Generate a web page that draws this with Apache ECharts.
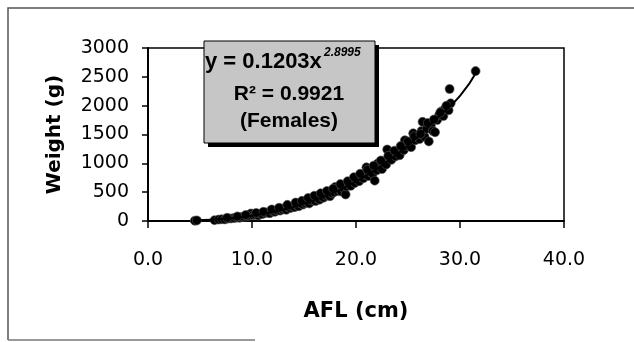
<!DOCTYPE html>
<html>
<head>
<meta charset="utf-8">
<script src="https://cdn.jsdelivr.net/npm/echarts@6/dist/echarts.min.js"></script>
<style>
  html, body { margin: 0; padding: 0; background: #fff; }
  #chart { width: 634px; height: 342px; }
</style>
</head>
<body>
<div id="chart"></div>
<script>
// measured points (AFL cm, weight g)
const afl = [
  4.5, 4.7, 6.4, 6.8, 7.1, 7.4, 7.7, 8.0, 8.3, 8.5, 8.8, 9.0, 9.2, 9.5, 9.7, 9.9,
  10.1, 10.3, 10.6, 10.8, 11.0, 11.3, 11.5, 11.7, 12.0, 12.2, 12.4, 12.7, 12.9,
  13.1, 13.3, 13.5, 13.7, 13.9, 14.1, 14.3, 14.5, 14.7, 14.9, 15.1, 15.3, 15.5,
  15.7, 15.9, 16.1, 16.3, 16.5, 16.7, 16.9, 17.1, 17.3, 17.5, 17.7, 17.9, 18.0,
  18.2, 18.4, 18.6, 18.8, 19.0, 19.1, 19.3, 19.5, 19.7, 19.9, 20.1, 20.3, 20.5,
  20.7, 20.9, 21.0, 21.2, 21.4, 21.6, 21.8, 22.0, 22.1, 22.3, 22.5, 22.7, 22.9,
  23.0, 23.2, 23.4, 23.6, 23.8, 24.0, 24.2, 24.4, 24.6, 24.7, 24.9, 25.1, 25.3,
  25.5, 25.7, 25.9, 26.1, 26.3, 26.4, 26.6, 26.8, 27.0, 27.2, 27.4, 27.6, 27.8,
  28.0, 28.2, 28.4, 28.6, 28.9, 29.0, 29.1, 31.5,
  // second pass, a bit above / below the main band
  7.6, 8.6, 9.4, 10.4, 11.1, 11.9, 12.6, 13.4, 14.2, 14.8, 15.4, 16.0, 16.6,
  17.2, 17.8, 18.5, 19.2, 19.8, 20.4, 21.1, 21.7, 22.4, 23.1, 23.7, 24.3, 25.0,
  25.6, 26.2, 26.9, 27.5, 28.1, 28.7
]
const weight = [
  5, 10, 15, 25, 30, 28, 42, 45, 50, 60, 55, 70, 75, 80, 95, 130,
  100, 110, 95, 125, 120, 140, 150, 135, 165, 160, 185, 180, 200,
  220, 195, 235, 225, 250, 240, 270, 255, 300, 285, 310, 330, 305,
  360, 380, 345, 390, 370, 420, 405, 440, 455, 430, 480, 500, 590,
  520, 545, 510, 570, 460, 600, 640, 610, 700, 660, 720, 690, 760,
  740, 800, 930, 780, 840, 820, 700, 880, 1000, 950, 900, 1030, 980,
  1240, 1100, 1060, 1150, 1120, 1190, 1140, 1260, 1230, 1400, 1300, 1350, 1280,
  1520, 1400, 1460, 1420, 1560, 1720, 1460, 1600, 1380, 1650, 1560, 1540, 1750,
  1840, 1900, 1820, 1960, 1920, 2290, 2040, 2600,
  55, 80, 105, 140, 160, 200, 230, 280, 320, 350, 400, 440, 480,
  520, 560, 640, 690, 760, 820, 890, 960, 1050, 1130, 1220, 1300, 1380,
  1470, 1510, 1700, 1760, 1880, 2000
]
// power trendline as drawn in the picture
const trendX = [4.6, 6, 8, 10, 12, 14, 16, 18, 20, 22, 24, 26, 28, 30, 31.7]
const trendY = [10, 20, 48, 92, 155, 245, 360, 505, 685, 905, 1165, 1470, 1820, 2170, 2620]

const xTicks = [0, 10, 20, 30, 40]
const yTicks = [0, 500, 1000, 1500, 2000, 2500, 3000]

const eqText = 'y = 0.1203x'
const eqPower = '2.8995'
const r2Text = 'R² = 0.9921'
const groupText = '(Females)'

const myChart = echarts.init(document.getElementById('chart'))

const axisFont = 'DejaVu Sans'

const option = {
  animation: false,
  backgroundColor: '#fff',
  grid: {
    left: 148,
    right: 70,
    top: 48,
    bottom: 121,
    show: true,
    borderColor: '#000',
    borderWidth: 1.5,
  },
  xAxis: {
    type: 'value',
    min: xTicks[0],
    max: xTicks[xTicks.length - 1],
    interval: 10,
    name: 'AFL (cm)',
    nameLocation: 'middle',
    nameGap: 80,
    nameTextStyle: { fontFamily: axisFont, fontWeight: 'bold', fontSize: 21, color: '#000' },
    axisLine: { lineStyle: { color: '#000', width: 2 } },
    axisTick: { length: 7, lineStyle: { color: '#000', width: 1.5 } },
    axisLabel: {
      margin: 30,
      fontFamily: axisFont,
      fontSize: 19,
      color: '#000',
      formatter: v => v.toFixed(1),
    },
    splitLine: { show: false },
  },
  yAxis: {
    type: 'value',
    min: yTicks[0],
    max: yTicks[yTicks.length - 1],
    interval: 500,
    name: 'Weight (g)',
    nameLocation: 'middle',
    nameGap: 83,
    nameTextStyle: { fontFamily: axisFont, fontWeight: 'bold', fontSize: 20, color: '#000' },
    axisLine: { lineStyle: { color: '#000', width: 2 } },
    axisTick: { length: 6, lineStyle: { color: '#000', width: 1.5 } },
    axisLabel: { margin: 19, fontFamily: axisFont, fontSize: 19, color: '#000', formatter: v => String(v) },
    splitLine: { show: false },
  },
  series: [
    {
      type: 'scatter',
      symbol: 'circle',
      symbolSize: 9,
      itemStyle: { color: '#000', opacity: 1, borderColor: '#555', borderWidth: 0.6 },
      data: afl.map((x, i) => [x, weight[i]]),
      z: 2,
    },
    {
      type: 'line',
      smooth: true,
      showSymbol: false,
      lineStyle: { color: '#000', width: 2 },
      data: trendX.map((x, i) => [x, trendY[i]]),
      z: 3,
    },
  ],
  graphic: [
    // page frame
    { type: 'polyline', shape: { points: [[8, 340], [8, 8], [634, 8]] }, style: { stroke: '#555', lineWidth: 1.5, fill: null } },
    { type: 'line', shape: { x1: 8, y1: 340, x2: 255, y2: 340 }, style: { stroke: '#777', lineWidth: 1.5 } },
    // equation box shadow + box
    { type: 'rect', shape: { x: 208, y: 45, width: 171, height: 102 }, style: { fill: '#000' }, z: 10 },
    { type: 'rect', shape: { x: 204, y: 41, width: 171, height: 102 }, style: { fill: '#c6c6c6', stroke: '#000', lineWidth: 1 }, z: 11 },
    {
      type: 'text', left: 205, top: 51, z: 12,
      style: { text: eqText, font: 'bold 22px "Liberation Sans"', fill: '#000' },
    },
    {
      type: 'text', left: 324, top: 47, z: 12,
      style: { text: eqPower, font: 'italic bold 12px "Liberation Sans"', fill: '#000' },
    },
    {
      type: 'text', z: 12,
      style: { text: r2Text, x: 289, y: 94, align: 'center', verticalAlign: 'middle', font: 'bold 21px "Liberation Sans"', fill: '#000' },
    },
    {
      type: 'text', z: 12,
      style: { text: groupText, x: 289, y: 121, align: 'center', verticalAlign: 'middle', font: 'bold 21px "Liberation Sans"', fill: '#000' },
    },
  ],
}

myChart.setOption(option)
</script>
</body>
</html>
